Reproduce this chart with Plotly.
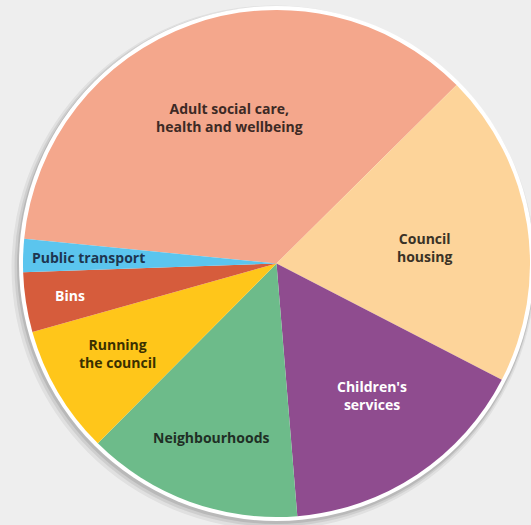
import plotly.graph_objects as go

# Data (share of spending, %)
categories = ["Adult social care,<br>health and wellbeing", "Council<br>housing",
              "Children's<br>services", "Neighbourhoods", "Running<br>the council",
              "Bins", "Public transport"]
values = [36.0, 20.0, 16.1, 13.75, 8.2, 3.8, 2.1]
colors = ["#F4A78C", "#FDD49A", "#8F4C8F", "#6DBB8A", "#FFC61A", "#D65C3C", "#5BC5EE"]
text_colors = ["#3d2a25", "#3a3226", "#ffffff", "#1f2f25", "#3a3000", "#ffffff", "#1e3550"]

W, H = 531, 525
cx, cy, r = 276.5, 263.5, 253.5  # pixel centre/radius of the pie


def px(x):
    return x / W


def py(y):
    return 1 - y / H


fig = go.Figure()
fig.add_trace(go.Pie(
    labels=categories,
    values=values,
    sort=False,
    direction="clockwise",
    rotation=275.6,
    marker=dict(colors=colors, line=dict(width=0)),
    textinfo="none",
    hoverinfo="label+percent",
    showlegend=False,
    domain=dict(x=[px(cx - r), px(cx + r)], y=[py(cy + r), py(cy - r)]),
))

shapes = []
# soft shadow
for dx, dy, rr, op in [(-3, 4, 262, 0.06), (-2, 3, 260, 0.08), (-1, 2, 258.5, 0.10)]:
    shapes.append(dict(type="circle", xref="paper", yref="paper", layer="below",
                       x0=px(cx + dx - rr), x1=px(cx + dx + rr),
                       y0=py(cy + dy + rr), y1=py(cy + dy - rr),
                       fillcolor=f"rgba(0,0,0,{op})", line=dict(width=0)))
# white rim
shapes.append(dict(type="circle", xref="paper", yref="paper", layer="below",
                   x0=px(cx - 257.5), x1=px(cx + 257.5),
                   y0=py(cy + 257.5), y1=py(cy - 257.5),
                   fillcolor="#ffffff", line=dict(width=0)))

label_pos = [(229, 118), (425, 247), (372, 395), (211, 437), (117, 353), (70, 295), (88, 257)]
annotations = []
for lab, (x, y), tc in zip(categories, label_pos, text_colors):
    annotations.append(dict(text=lab, x=px(x), y=py(y), xref="paper", yref="paper",
                            showarrow=False, xanchor="center", yanchor="middle",
                            font=dict(family="Open Sans", size=14, color=tc, weight=700),
                            align="center"))

fig.update_layout(
    width=W, height=H,
    margin=dict(l=0, r=0, t=0, b=0),
    paper_bgcolor="#EEEEEE",
    plot_bgcolor="#EEEEEE",
    shapes=shapes,
    annotations=annotations,
)

fig.write_html("out.html")
